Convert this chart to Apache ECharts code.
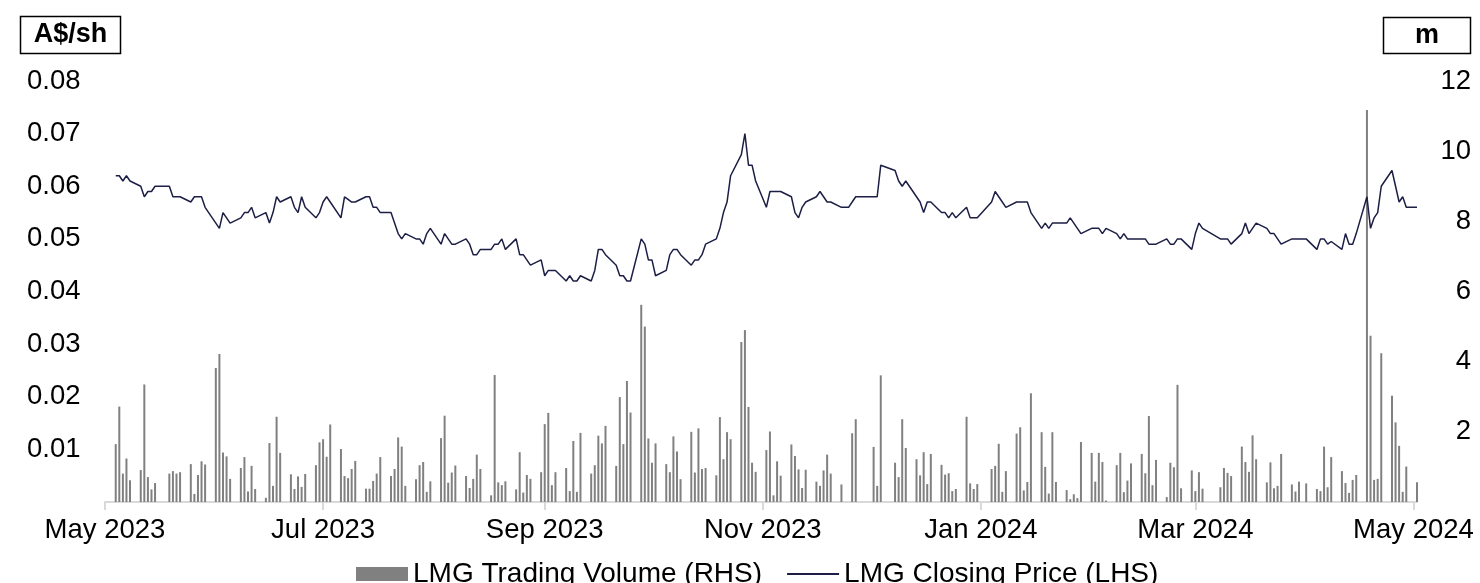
<!DOCTYPE html>
<html>
<head>
<meta charset="utf-8">
<script src="https://cdn.jsdelivr.net/npm/echarts@6/dist/echarts.min.js"></script>
<style>
html,body{margin:0;padding:0;background:#fff;}
#chart{width:1480px;height:583px;}
</style>
</head>
<body>
<div id="chart"></div>
<script>
// ---- data ----
const firstDay = '2023-05-29';
const lastDay = '2024-05-27';
const holidays = ['2023-06-12','2023-12-25','2023-12-26','2024-01-01','2024-01-26','2024-03-29','2024-04-01','2024-04-25'];
const tickDates = ['2023-05-26','2023-07-26','2023-09-26','2023-11-26','2024-01-26','2024-03-26','2024-05-26'];
const axisMin = '2023-05-26';
const axisMax = '2024-05-27';
const leftTicks = [0, 0.01, 0.02, 0.03, 0.04, 0.05, 0.06, 0.07, 0.08];
const rightTicks = [0, 2, 4, 6, 8, 10, 12];

// closing price, A$/sh, one value per trading day (week per line)
const closingPrice = [
  0.062,0.062,0.061,0.062,0.061,
  0.060,0.058,0.059,0.059,0.060,
  0.060,0.058,0.058,0.058,
  0.057,0.058,0.058,0.058,0.056,
  0.053,0.052,0.055,0.054,0.053,
  0.054,0.055,0.055,0.056,0.054,
  0.055,0.053,0.055,0.058,0.057,
  0.058,0.056,0.055,0.058,0.056,
  0.054,0.055,0.057,0.058,0.057,
  0.054,0.058,0.0575,0.057,0.057,
  0.058,0.058,0.056,0.056,0.055,
  0.055,0.053,0.051,0.050,0.051,
  0.050,0.050,0.049,0.051,0.052,
  0.049,0.051,0.050,0.049,0.049,
  0.050,0.049,0.047,0.047,0.048,
  0.048,0.049,0.049,0.050,0.048,
  0.050,0.047,0.047,0.046,0.045,
  0.046,0.043,0.044,0.044,0.044,
  0.042,0.043,0.042,0.042,0.043,
  0.042,0.044,0.048,0.048,0.047,
  0.045,0.043,0.043,0.042,0.042,
  0.050,0.049,0.046,0.046,0.043,
  0.044,0.047,0.048,0.048,0.047,
  0.045,0.046,0.046,0.047,0.049,
  0.050,0.052,0.055,0.057,0.062,
  0.066,0.070,0.064,0.064,0.061,
  0.056,0.059,0.059,0.059,0.059,
  0.058,0.055,0.054,0.056,0.057,
  0.058,0.059,0.058,0.057,0.057,
  0.056,0.056,0.056,0.057,0.058,
  0.058,0.058,0.064,
  0.063,0.061,0.060,0.061,
  0.058,0.057,0.055,0.057,0.057,
  0.055,0.055,0.054,0.055,0.054,
  0.056,0.054,0.054,0.054,
  0.057,0.059,0.058,0.057,0.056,
  0.057,0.057,0.057,0.057,0.055,
  0.052,0.053,0.052,0.053,0.053,
  0.053,0.054,0.053,0.052,0.051,
  0.052,0.052,0.052,0.051,0.052,
  0.051,0.050,0.051,0.050,0.050,
  0.050,0.050,0.049,0.049,0.049,
  0.050,0.049,0.049,0.050,0.050,
  0.048,0.051,0.053,0.052,
  0.050,0.050,0.050,0.049,
  0.051,0.053,0.051,0.052,0.053,
  0.052,0.051,0.051,0.050,0.049,
  0.050,0.050,0.050,0.050,
  0.048,0.050,0.050,0.049,0.0495,
  0.048,0.051,0.049,0.049,0.051,
  0.058,0.052,0.054,0.055,0.060,
  0.063,0.060,0.057,0.058,0.056,
  0.056
];

// trading volume, millions of shares, one value per trading day
const tradingVolume = [
  1.65,2.72,0.81,1.24,0.62,
  0.91,3.35,0.71,0.36,0.54,
  0.81,0.88,0.81,0.85,
  1.08,0.23,0.77,1.16,1.07,
  3.82,4.22,1.41,1.30,0.66,
  0.97,1.28,0.30,1.03,0.37,
  0.12,1.68,0.46,2.43,1.40,
  0.79,0.37,0.73,0.43,0.80,
  1.05,1.70,1.79,1.29,2.21,
  1.51,0.74,0.68,0.94,1.17,
  0.38,0.38,0.60,0.81,1.28,
  0.74,0.94,1.84,1.58,0.46,
  0.65,1.05,1.14,0.29,0.59,
  1.82,2.46,0.55,0.84,1.04,
  0.74,0.40,0.66,1.35,0.94,
  0.19,3.62,0.56,0.48,0.59,
  0.36,1.42,0.27,0.77,0.66,
  0.85,2.22,2.54,0.48,0.85,
  0.97,0.31,1.74,0.29,1.97,
  0.81,1.05,1.89,1.67,2.17,
  1.03,2.99,1.65,3.45,2.55,
  5.62,5.00,1.81,1.12,1.67,
  1.08,0.85,1.87,1.44,0.65,
  2.00,0.84,2.10,0.94,0.97,
  0.76,2.42,1.22,1.99,1.79,
  4.56,4.90,2.71,1.12,0.86,
  1.48,2.01,0.19,1.16,0.75,
  1.64,1.31,0.93,0.40,0.92,
  0.58,0.46,0.90,1.35,0.81,
  0.50,0,0,1.96,2.36,
  1.57,0.46,3.61,
  1.12,0.71,2.36,1.54,
  1.22,0.76,1.42,0.51,1.37,
  1.06,0.78,0.82,0.31,0.37,
  2.43,0.53,0.37,0.51,
  0.94,1.03,1.66,0.29,0.88,
  1.95,2.13,0.33,0.57,3.10,
  1.99,1.00,0.24,1.99,0.57,
  0.34,0.08,0.22,0.11,1.71,
  1.40,0.58,1.40,1.14,0.04,
  1.05,1.40,0.28,0.61,1.10,
  1.37,0.82,2.45,0.48,1.20,
  0.14,1.12,0.99,3.34,0.39,
  0.90,0.31,0.85,0.38,
  0.42,0.97,0.83,0.74,
  1.58,1.14,0.86,1.90,1.22,
  0.56,1.13,0.39,0.46,1.37,
  0.50,0.30,0.58,0.53,
  0.37,0.31,1.58,0.42,1.28,
  0.88,0.54,0.26,0.63,0.77,
  11.17,4.74,0.63,0.66,4.24,
  3.03,2.27,1.60,0.29,1.01,
  0.56
];

const seriesNames = ['LMG Trading Volume (RHS)', 'LMG Closing Price (LHS)'];
const leftUnit = 'A$/sh';
const rightUnit = 'm';
const monthNames = ['Jan','Feb','Mar','Apr','May','Jun','Jul','Aug','Sep','Oct','Nov','Dec'];

// ---- helpers ----
function toTs(s){ const p = s.split('-').map(Number); return Date.UTC(p[0], p[1]-1, p[2]); }
function fmt(d){ return d.getUTCFullYear()+'-'+String(d.getUTCMonth()+1).padStart(2,'0')+'-'+String(d.getUTCDate()).padStart(2,'0'); }
const tradingDays = [];
(function(){
  const end = toTs(lastDay);
  for (let t = toTs(firstDay); t <= end; t += 86400000) {
    const d = new Date(t);
    const wd = d.getUTCDay();
    const s = fmt(d);
    if (wd === 0 || wd === 6 || holidays.indexOf(s) >= 0) continue;
    tradingDays.push(s);
  }
})();
const n = Math.min(tradingDays.length, closingPrice.length, tradingVolume.length);
const priceData = [], volData = [];
for (let i = 0; i < n; i++) {
  priceData.push([toTs(tradingDays[i]), closingPrice[i]]);
  volData.push([toTs(tradingDays[i]), tradingVolume[i]]);
}
const tickTs = tickDates.map(toTs);

const FONT = '"Liberation Sans", Arial, sans-serif';
const LINE_COLOR = '#1c1e45';
const chart = echarts.init(document.getElementById('chart'), null, {renderer: 'canvas'});
chart.setOption({
  animation: false,
  backgroundColor: '#ffffff',
  textStyle: {fontFamily: FONT, color: '#000'},
  grid: {left: 105, right: 63, top: 81, bottom: 81, containLabel: false},
  legend: {
    left: 356, top: 560, padding: 0,
    itemWidth: 52, itemHeight: 14, itemGap: 24,
    textStyle: {fontSize: 28, color: '#000', fontFamily: FONT},
    data: [
      {name: seriesNames[0], icon: 'rect'},
      {name: seriesNames[1], itemStyle: {opacity: 0, color: 'rgba(0,0,0,0)', borderColor: 'rgba(0,0,0,0)', borderWidth: 0}}
    ]
  },
  xAxis: {
    type: 'value',
    min: toTs(axisMin), max: toTs(axisMax),
    axisLine: {show: true, onZero: false, lineStyle: {color: '#d9d9d9', width: 2}},
    axisTick: {show: true, length: 8, lineStyle: {color: '#d9d9d9', width: 2}, customValues: tickTs},
    axisLabel: {
      fontSize: 27.5, color: '#000', margin: 14, fontFamily: FONT,
      customValues: tickTs,
      formatter: function(v){ const d = new Date(v); return monthNames[d.getUTCMonth()] + ' ' + d.getUTCFullYear(); }
    },
    splitLine: {show: false}
  },
  yAxis: [
    {
      type: 'value', min: leftTicks[0], max: leftTicks[leftTicks.length-1], interval: 0.01, position: 'left',
      axisLine: {show: false}, axisTick: {show: false}, splitLine: {show: false},
      axisLabel: {fontSize: 27.5, color: '#000', align: 'left', margin: 78, fontFamily: FONT,
        formatter: function(v){ return v === 0 ? '' : v.toFixed(2); }}
    },
    {
      type: 'value', min: rightTicks[0], max: rightTicks[rightTicks.length-1], interval: 2, position: 'right',
      axisLine: {show: false}, axisTick: {show: false}, splitLine: {show: false},
      axisLabel: {fontSize: 27.5, color: '#000', align: 'right', margin: 54, fontFamily: FONT,
        formatter: function(v){ return v === 0 ? '' : String(v); }}
    }
  ],
  series: [
    {
      name: seriesNames[0], type: 'bar', yAxisIndex: 1, data: volData,
      barWidth: 2, itemStyle: {color: '#808080'}, z: 2
    },
    {
      name: seriesNames[1], type: 'line', yAxisIndex: 0, data: priceData,
      symbol: 'none', lineStyle: {color: LINE_COLOR, width: 1.5}, itemStyle: {color: LINE_COLOR}, z: 3
    }
  ],
  graphic: [
    {type: 'rect', shape: {x: 20.5, y: 16.5, width: 100, height: 37}, style: {fill: '#fff', stroke: '#000', lineWidth: 1.5}},
    {type: 'text', x: 70.5, y: 35, style: {text: leftUnit, font: 'bold 27px "Liberation Sans", Arial, sans-serif', fill: '#000', align: 'center', verticalAlign: 'middle'}},
    {type: 'rect', shape: {x: 1383.5, y: 17.5, width: 87, height: 36}, style: {fill: '#fff', stroke: '#000', lineWidth: 1.5}},
    {type: 'text', x: 1427, y: 35.5, style: {text: rightUnit, font: 'bold 27px "Liberation Sans", Arial, sans-serif', fill: '#000', align: 'center', verticalAlign: 'middle'}}
  ]
});
</script>
</body>
</html>
